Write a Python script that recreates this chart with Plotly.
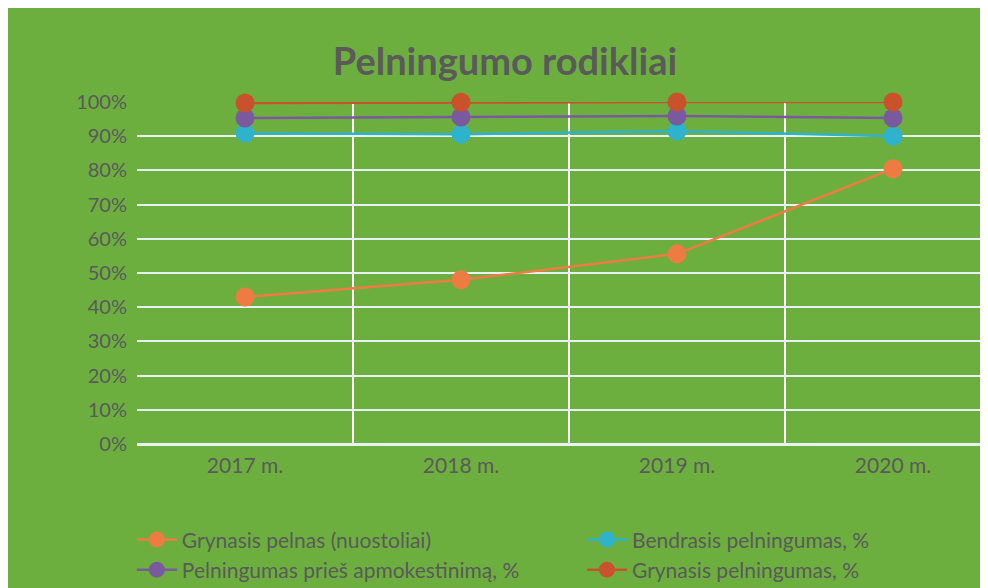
import plotly.graph_objects as go

categories = ["2017 m.", "2018 m.", "2019 m.", "2020 m."]
grynasis_pelnas = [0.43, 0.48, 0.556, 0.805]
bendrasis = [0.909, 0.906, 0.915, 0.90]
pries_apmok = [0.953, 0.956, 0.959, 0.953]
grynasis_peln = [0.997, 0.999, 1.0, 1.0]

series = [
    ("Grynasis pelnas (nuostoliai)", grynasis_pelnas, "#ee7c42", "legend"),
    ("Bendrasis pelningumas, %", bendrasis, "#2fb2cc", "legend2"),
    ("Pelningumas prieš apmokestinimą, %", pries_apmok, "#7a5a9e", "legend"),
    ("Grynasis pelningumas, %", grynasis_peln, "#c9512c", "legend2"),
]

x_idx = list(range(len(categories)))
FONT = "Lato, Carlito, Calibri, sans-serif"
GREY = "#5a5a5a"
BG = "#6daf3f"

fig = go.Figure()
for name, vals, col, lg in series:
    fig.add_trace(go.Scatter(
        x=x_idx, y=vals, name=name, mode="lines+markers",
        line=dict(color=col, width=2.5),
        marker=dict(color=col, size=19),
        cliponaxis=False, legend=lg,
    ))

legend_common = dict(orientation="v", yanchor="top", bgcolor="rgba(0,0,0,0)",
                     font=dict(family=FONT, size=21, color=GREY),
                     tracegroupgap=0, itemwidth=40, traceorder="normal")

fig.update_layout(
    width=988, height=588,
    paper_bgcolor=BG, plot_bgcolor=BG,
    margin=dict(l=129, r=0, t=94, b=152, autoexpand=False),
    title=dict(text="<b>Pelningumo rodikliai</b>", x=0.503, xanchor="center",
               y=1 - 54 / 588, yanchor="middle",
               font=dict(family=FONT, size=38, color=GREY)),
    font=dict(family=FONT, color=GREY, size=20),
    showlegend=True,
    legend=dict(x=-0.006, xanchor="left", y=-0.22, **legend_common),
    legend2=dict(x=0.518, xanchor="left", y=-0.22, **legend_common),
    xaxis=dict(range=[-0.5, -0.5 + 859 / 216], tickvals=x_idx, ticktext=categories,
               showgrid=False, zeroline=False, showline=False,
               ticks="", ticklen=0, ticklabelstandoff=7,
               minor=dict(tickvals=[-0.5, 0.5, 1.5, 2.5, 3.5], showgrid=True,
                          gridcolor="white", gridwidth=1.5, ticks=""),
               tickfont=dict(size=21, color=GREY)),
    yaxis=dict(range=[0, 1], dtick=0.1, tickformat=".0%", showgrid=True,
               gridcolor="#e8f2f4", gridwidth=2, zeroline=True,
               zerolinecolor="#e8f2f4", zerolinewidth=3,
               showline=False, ticks="", ticklabelstandoff=9,
               tickfont=dict(size=20, color=GREY)),
)

fig.write_html("out.html")
